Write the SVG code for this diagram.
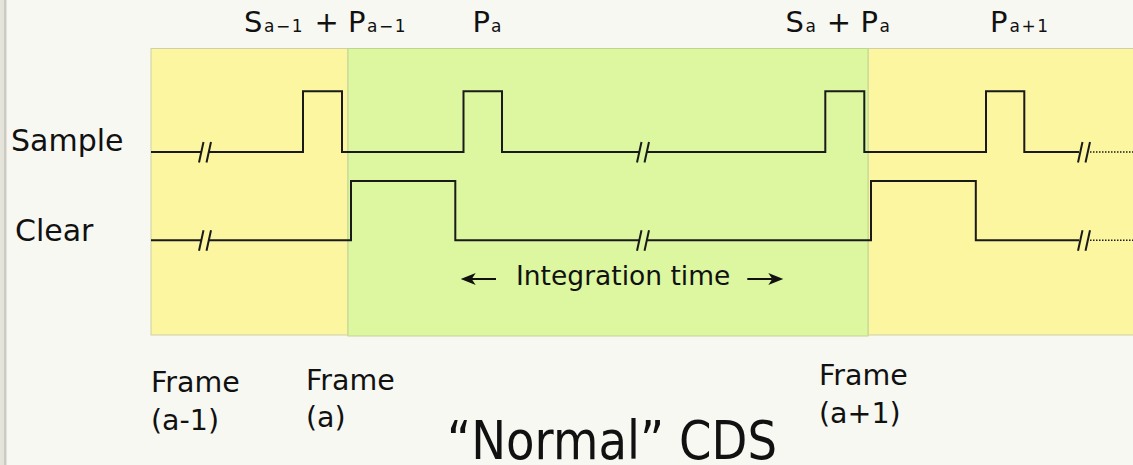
<svg xmlns="http://www.w3.org/2000/svg" width="1133" height="465" viewBox="0 0 1133 465">
<style>
text{font-family:"DejaVu Sans","Verdana",sans-serif;fill:#111}
.lbl{font-size:29px}
.sub{font-size:17px;letter-spacing:1.5px}
.side{font-size:30px}
.frm{font-size:28.5px}
.sig{fill:none;stroke:#1a1a1a;stroke-width:2}
.dot{fill:none;stroke:#1a1a1a;stroke-width:1.6;stroke-dasharray:1.5 1.5}
.brk line{stroke:#1a1a1a;stroke-width:2}
</style>
<defs>
<g id="brk" class="brk"><line x1="2.5" y1="-10" x2="-2" y2="10.5"/><line x1="10" y1="-10" x2="5.5" y2="10.5"/></g>
<path id="ah" d="M0,0 L15,-6 L11,0 L15,6 Z" fill="#111"/>
</defs>
<rect width="1133" height="465" fill="#f8f8f3"/>
<rect x="0" y="0" width="4" height="465" fill="#e4e4db"/>
<rect x="4" y="0" width="2.5" height="465" fill="#cbcbc4"/>
<g id="frame-a-1"><rect x="151" y="48.5" width="197" height="286.5" fill="#fbf69f" stroke="#cfcfa8" stroke-width="1"/></g>
<g id="frame-a1"><rect x="868" y="48.5" width="266" height="286.5" fill="#fbf69f" stroke="#cfcfa8" stroke-width="1"/></g>
<g id="frame-a"><rect x="348" y="48.5" width="520" height="287.5" fill="#dcf7a0" stroke="#bfd68f" stroke-width="1"/></g>
<g id="labels">
<text class="lbl" x="244" y="32">S</text><text class="sub" x="264" y="32">a−1</text>
<text class="lbl" x="326.7" y="32" text-anchor="middle">+</text>
<text class="lbl" x="348" y="32">P</text><text class="sub" x="367" y="32">a−1</text>
<text class="lbl" x="472.5" y="32">P</text><text class="sub" x="491" y="32">a</text>
<text class="lbl" x="785.4" y="32">S</text><text class="sub" x="805.5" y="32">a</text>
<text class="lbl" x="839" y="32" text-anchor="middle">+</text>
<text class="lbl" x="860.6" y="32">P</text><text class="sub" x="879.5" y="32">a</text>
<text class="lbl" x="990" y="32">P</text><text class="sub" x="1009.5" y="32">a+1</text>
</g>
<g id="sample-label"><text class="side" x="11" y="151">Sample</text></g>
<g id="clear-label"><text class="side" x="15" y="240.5">Clear</text></g>
<g id="connectors">
<path class="sig" d="M151,152 H201 M208,152 H303 V91.3 H342 V152 H463.5 V91.3 H502 V152 H639 M646,152 H825.3 V91.3 H864.3 V152 H986 V91.3 H1024.3 V152 H1079"/>
<path class="sig" d="M151,240.3 H201 M208,240.3 H351 V181 H455.3 V240.3 H639 M646,240.3 H871 V181 H975.8 V240.3 H1079"/>
<path class="dot" d="M1090,152 H1133 M1090,240.3 H1133"/>
<use href="#brk" x="201" y="152"/>
<use href="#brk" x="639" y="152"/>
<use href="#brk" x="1080" y="152"/>
<use href="#brk" x="201" y="240.3"/>
<use href="#brk" x="639" y="240.3"/>
<use href="#brk" x="1080" y="240.3"/>
<line x1="470" y1="279" x2="496" y2="279" stroke="#111" stroke-width="2"/>
<use href="#ah" x="460.7" y="279"/>
<line x1="747.3" y1="279" x2="772" y2="279" stroke="#111" stroke-width="2"/>
<use href="#ah" transform="translate(783.3,279) scale(-1,1)"/>
</g>
<g id="integration"><text x="516" y="285" font-size="26.5">Integration time</text></g>
<g id="frame-labels">
<text class="frm" x="151" y="392.3">Frame</text><text class="frm" x="151" y="430">(a-1)</text>
<text class="frm" x="306" y="390">Frame</text><text class="frm" x="306" y="426.7">(a)</text>
<text class="frm" x="819" y="385">Frame</text><text class="frm" x="819" y="422.7">(a+1)</text>
</g>
<g id="title"><text x="447" y="459" font-size="54" textLength="330" lengthAdjust="spacingAndGlyphs">“Normal” CDS</text></g>
</svg>
